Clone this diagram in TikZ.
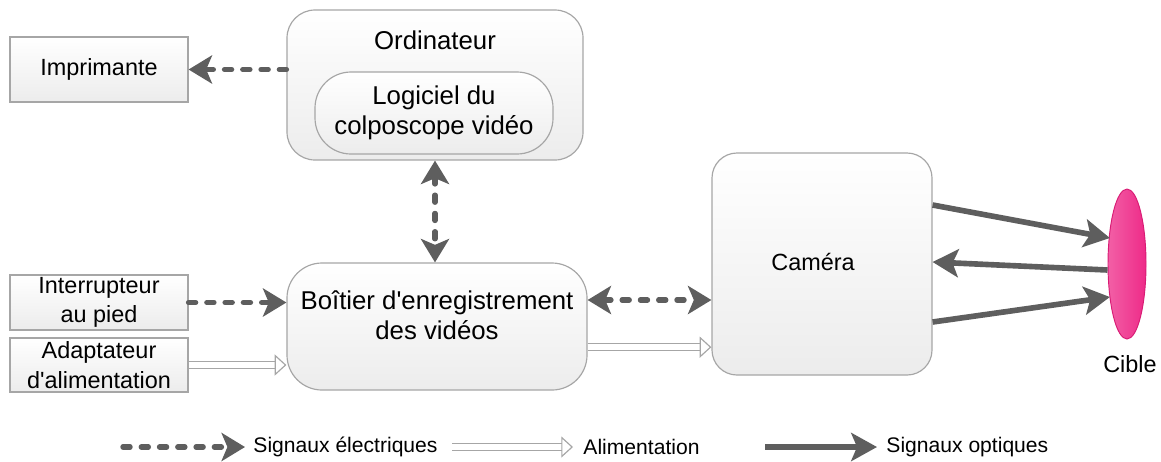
\documentclass[tikz,border=0pt]{standalone}
\usepackage{fontspec}
\setmainfont{Liberation Sans}
\usepackage{xcolor}
\usepackage{tikz}
\usetikzlibrary{shapes.geometric,arrows.meta,positioning}
\definecolor{cpink}{HTML}{EE2A88}
\definecolor{cpinkd}{HTML}{D81B74}
\definecolor{carrow}{HTML}{5E5E5E}
\definecolor{cline}{HTML}{A6A6A6}
\definecolor{cfill}{HTML}{ECECEC}
\tikzset{
  unit/.style={rectangle,draw=cline,line width=0.5pt,top color=white,bottom color=cfill,
               align=center,font=\fontsize{10}{12.5}\selectfont,inner sep=0pt},
  rbox/.style={unit,rounded corners=#1,font=\fontsize{11}{13}\selectfont},
  elec/.style={draw=carrow,line width=2.3pt,dash pattern=on 3pt off 4.8pt,line cap=round,
               -{Stealth[length=10pt,width=12pt,inset=2.5pt,line cap=butt]}},
  elecb/.style={elec,{Stealth[length=10pt,width=12pt,inset=2.5pt,line cap=butt]}-{Stealth[length=10pt,width=12pt,inset=2.5pt,line cap=butt]}},
  power/.style={draw=cline,line width=0.5pt,double=white,double distance=2.6pt,
                -{Triangle[open,length=5pt,width=9pt]}},
  optic/.style={draw=carrow,line width=2.4pt,-{Stealth[length=11pt,width=12pt,inset=2.5pt]}},
}

\begin{document}
\begin{tikzpicture}[x=0.015cm,y=-0.015cm,
  lgd/.style={font=\fontsize{9}{11}\selectfont,anchor=west,inner sep=0pt},
  txt/.style={font=\fontsize{11}{13}\selectfont,align=center,inner sep=0pt}]
  \useasboundingbox (0,0) rectangle (1161,461);
  % boxes
  \node[unit,minimum width=26.7mm,minimum height=9.75mm] (imprimante) at (99,69.5) {Imprimante};
  \node[rbox=4.2mm,minimum width=44.4mm,minimum height=22.5mm] (ordi) at (435,85) {};
  \node[txt] (ordtxt) at (435,40) {Ordinateur};
  \node[rbox=5.4mm,minimum width=35.7mm,minimum height=12.3mm] (logiciel) at (434,113) {Logiciel du\\colposcope vidéo};
  \node[unit,minimum width=26.7mm,minimum height=8.25mm] (interrupteur) at (99,302.5) {Interrupteur\\au pied};
  \node[unit,minimum width=26.7mm,minimum height=8.1mm] (adaptateur) at (99,365) {Adaptateur\\d\textquotesingle alimentation};
  \node[rbox=5.25mm,minimum width=45mm,minimum height=19.05mm] (boitier) at (437,326.5) {};
  \node[txt] (boitxt) at (437,315) {Boîtier d\textquotesingle enregistrement\\des vidéos};
  \node[rbox=3.75mm,minimum width=33mm,minimum height=33.3mm] (camera) at (822,264) {};
  \node[txt,font=\fontsize{10}{12}\selectfont] (camtxt) at (813,262) {Caméra};
  \node[ellipse,draw=cpinkd,line width=0.4pt,left color=cpink!75,right color=cpink,
        minimum width=5.7mm,minimum height=22.5mm,inner sep=0pt] (cible) at (1127,264) {};
  \node[txt,font=\fontsize{10}{12}\selectfont] (cibtxt) at (1130,364) {Cible};
  % connectors
  \draw[elec] (ordi.west |- imprimante.east) -- (imprimante.east);
  \draw[elecb] (ordi.south) -- (ordi.south |- boitier.north);
  \draw[elec] (interrupteur.east) -- (interrupteur.east -| boitier.west);
  \draw[power] (adaptateur.east) -- (adaptateur.east -| boitier.west);
  \draw[elecb] ([yshift=3.975mm]boitier.east) -- ([yshift=3.975mm]boitier.east -| camera.west);
  \draw[power] ([yshift=-3.1mm]boitier.east) -- ([yshift=-3.1mm]boitier.east -| camera.west);
  \draw[optic] ([yshift=8.85mm]camera.east) -- ([yshift=3.9mm,xshift=1pt]cible.west);
  \draw[optic] ([yshift=-0.9mm]cible.west) -- ([yshift=0.3mm]camera.east);
  \draw[optic] ([yshift=-8.7mm]camera.east) -- ([yshift=-4.95mm,xshift=1pt]cible.west);
  % legend
  \coordinate (la) at (123,447); \coordinate (lb) at (245,447);
  \coordinate (lc) at (452,447); \coordinate (ld) at (573,447);
  \coordinate (le) at (765,447); \coordinate (lf) at (877,447);
  \draw[elec] (la) -- (lb);
  \draw[power] (lc) -- (ld);
  \draw[optic] (le) -- (lf);
  \node[lgd] (lelec) at (253,447) {Signaux électriques};
  \node[lgd] (lpow) at (583,447) {Alimentation};
  \node[lgd] (lopt) at (886,447) {Signaux optiques};
\end{tikzpicture}
\end{document}
